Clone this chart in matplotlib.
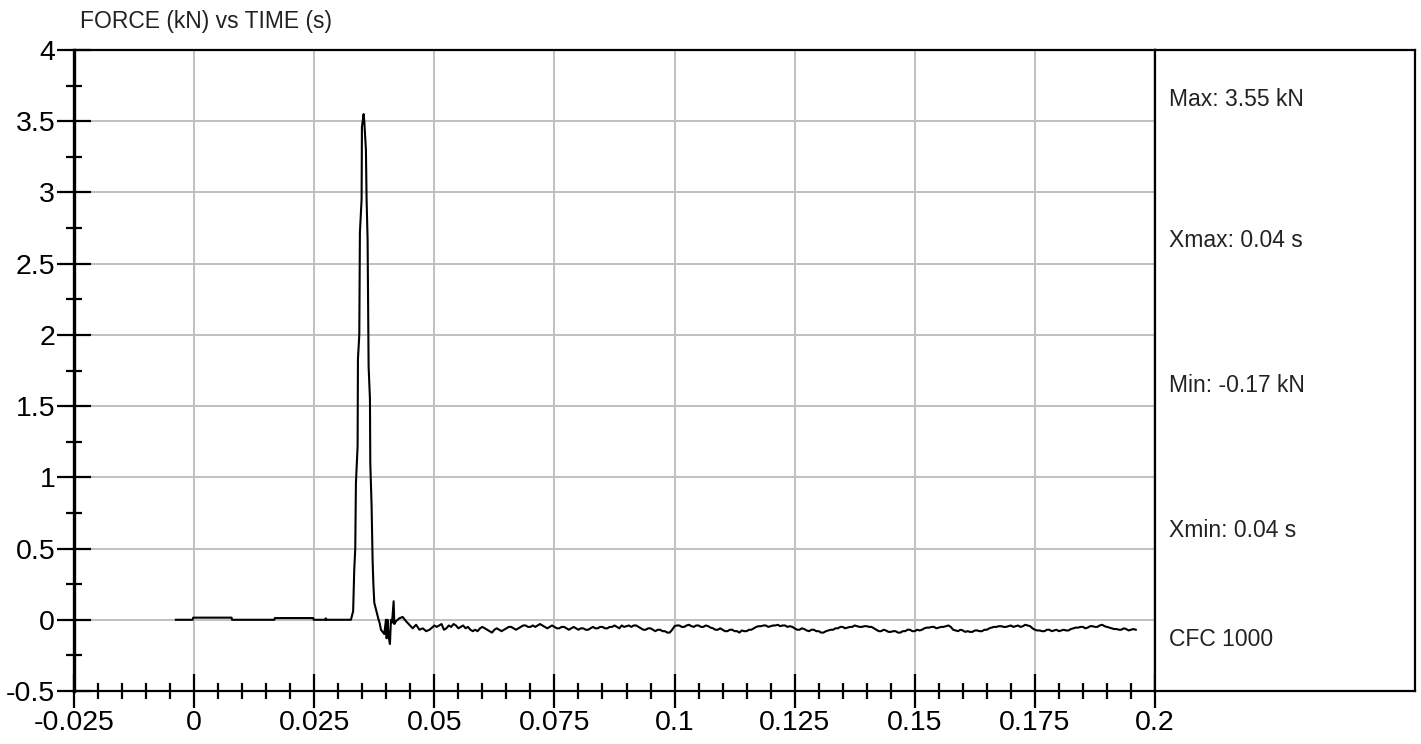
import numpy as np
import matplotlib
matplotlib.use("Agg")
import matplotlib.pyplot as plt
from matplotlib.ticker import MultipleLocator, FuncFormatter

plt.rcParams['axes.unicode_minus'] = False
plt.rcParams['font.family'] = ['Liberation Sans', 'DejaVu Sans']

# Data: pre-impact baseline (s, kN)
pre_t = [-0.0038, -0.0003, -0.0002, 0.0078, 0.0079, 0.0167, 0.0168, 0.0248, 0.0249,
         0.0273, 0.0274, 0.0275, 0.03264]
pre_f = [0.0, 0.0, 0.015, 0.015, 0.0, 0.0, 0.012, 0.012, 0.0,
         0.0, 0.01, 0.0, 0.0]

# impact pulse and ringing
pulse_t = [0.0331, 0.03333, 0.03354, 0.03368, 0.03403, 0.0341, 0.03438, 0.03451,
           0.03486, 0.03493, 0.03528, 0.03542, 0.03576, 0.0359, 0.03611, 0.03632,
           0.0366, 0.03667, 0.03694, 0.03715, 0.0373, 0.0375, 0.0384, 0.0386,
           0.03889, 0.03958, 0.03993, 0.04007, 0.04028, 0.04049, 0.04076, 0.04097,
           0.0412, 0.04153, 0.04167, 0.04201, 0.04271, 0.0434, 0.0441, 0.0448,
           0.0455, 0.0462, 0.0469, 0.0476, 0.0483, 0.0490, 0.0497]
pulse_f = [0.06, 0.35, 0.5, 0.96, 1.22, 1.83, 2.0, 2.72,
           2.95, 3.46, 3.55, 3.50, 3.3, 2.95, 2.67, 1.78,
           1.55, 1.1, 0.8, 0.42, 0.26, 0.12, 0.0, -0.02,
           -0.07, -0.1, 0.0, -0.13, 0.0, -0.12, -0.17, 0.0,
           -0.02, 0.13, -0.03, -0.01, 0.01, 0.02, -0.01, -0.035,
           -0.06, -0.035, -0.07, -0.06, -0.08, -0.07, -0.05]

# tail, sampled every 0.5 ms from 0.050 s
tail_t0 = 0.050
tail_dt = 0.0005
tail_f = [
    -0.04, -0.05, -0.04, -0.03, -0.07, -0.06, -0.04, -0.05, -0.03, -0.04,
    -0.06, -0.05, -0.04, -0.06, -0.05, -0.07, -0.08, -0.07, -0.08, -0.06,
    -0.05, -0.06, -0.07, -0.08, -0.09, -0.07, -0.06, -0.07, -0.08, -0.07,
    -0.06, -0.05, -0.05, -0.06, -0.07, -0.06, -0.05, -0.04, -0.04, -0.05,
    -0.05, -0.04, -0.05, -0.04, -0.03, -0.04, -0.05, -0.06, -0.05, -0.04,
    -0.05, -0.06, -0.06, -0.05, -0.05, -0.06, -0.07, -0.06, -0.05, -0.06,
    -0.07, -0.06, -0.06, -0.07, -0.07, -0.06, -0.05, -0.06, -0.06, -0.05,
    -0.05, -0.06, -0.06, -0.05, -0.05, -0.04, -0.05, -0.06, -0.04, -0.05,
    -0.045, -0.04, -0.05, -0.04, -0.04, -0.05, -0.06, -0.07, -0.07, -0.06,
    -0.06, -0.07, -0.08, -0.07, -0.07, -0.08, -0.08, -0.09, -0.09, -0.07,
    -0.045, -0.04, -0.04, -0.05, -0.05, -0.04, -0.035, -0.045, -0.05, -0.04,
    -0.04, -0.05, -0.05, -0.04, -0.045, -0.055, -0.06, -0.07, -0.07, -0.06,
    -0.07, -0.08, -0.08, -0.07, -0.07, -0.08, -0.08, -0.09, -0.075, -0.08,
    -0.08, -0.07, -0.07, -0.06, -0.05, -0.045, -0.045, -0.04, -0.04, -0.05,
    -0.045, -0.04, -0.04, -0.035, -0.045, -0.04, -0.04, -0.05, -0.045, -0.05,
    -0.06, -0.07, -0.07, -0.06, -0.065, -0.075, -0.08, -0.07, -0.07, -0.08,
    -0.08, -0.09, -0.09, -0.08, -0.075, -0.07, -0.07, -0.06, -0.06, -0.05,
    -0.05, -0.06, -0.055, -0.05, -0.05, -0.04, -0.045, -0.05, -0.05, -0.045,
    -0.045, -0.05, -0.05, -0.06, -0.07, -0.08, -0.08, -0.07, -0.075, -0.085,
    -0.085, -0.08, -0.08, -0.09, -0.09, -0.08, -0.08, -0.07, -0.07, -0.08,
    -0.08, -0.07, -0.075, -0.07, -0.06, -0.055, -0.055, -0.05, -0.05, -0.06,
    -0.055, -0.05, -0.05, -0.045, -0.04, -0.05, -0.07, -0.075, -0.08, -0.07,
    -0.075, -0.085, -0.08, -0.085, -0.085, -0.075, -0.075, -0.08, -0.08, -0.07,
    -0.07, -0.06, -0.055, -0.05, -0.05, -0.045, -0.045, -0.05, -0.05, -0.045,
    -0.04, -0.05, -0.045, -0.04, -0.05, -0.045, -0.035, -0.04, -0.045, -0.06,
    -0.07, -0.075, -0.075, -0.08, -0.08, -0.07, -0.07, -0.08, -0.075, -0.07,
    -0.08, -0.075, -0.07, -0.075, -0.075, -0.065, -0.06, -0.055, -0.055, -0.05,
    -0.05, -0.06, -0.055, -0.045, -0.045, -0.05, -0.05, -0.04, -0.035, -0.045,
    -0.05, -0.055, -0.06, -0.065, -0.065, -0.07, -0.07, -0.06, -0.065, -0.075,
    -0.07, -0.065, -0.07]

stats = ["Max: 3.55 kN", "Xmax: 0.04 s", "Min: -0.17 kN", "Xmin: 0.04 s", "CFC 1000"]
stats_y = [0.922, 0.703, 0.477, 0.251, 0.08]

tail_t = tail_t0 + tail_dt * np.arange(len(tail_f))
t = np.concatenate([pre_t, pulse_t, tail_t])
f = np.concatenate([pre_f, pulse_f, tail_f])

fig = plt.figure(figsize=(14.21, 7.44), dpi=100)
ax = fig.add_axes([74 / 1421, 1 - 691 / 744, (1155 - 74) / 1421, 641 / 744])
panel = fig.add_axes([1155 / 1421, 1 - 691 / 744, (1415 - 1155) / 1421, 641 / 744])

ax.plot(t, f, color='black', lw=1.5, zorder=3)

ax.set_xlim(-0.025, 0.2)
ax.set_ylim(-0.5, 4)
ax.xaxis.set_major_locator(MultipleLocator(0.025))
ax.xaxis.set_minor_locator(MultipleLocator(0.005))
ax.yaxis.set_major_locator(MultipleLocator(0.5))
ax.yaxis.set_minor_locator(MultipleLocator(0.25))
fmt = FuncFormatter(lambda v, p: "%g" % round(v, 4))
ax.xaxis.set_major_formatter(fmt)
ax.yaxis.set_major_formatter(fmt)
ax.tick_params(which='major', direction='inout', length=25, width=1.6,
               labelsize=20.5, pad=1)
ax.tick_params(which='minor', direction='inout', length=12, width=1.6)
ax.grid(True, which='major', color='#c0c0c0', lw=1.4)
ax.set_axisbelow(True)
for s in ['top', 'right', 'bottom']:
    ax.spines[s].set_linewidth(1.6)
ax.spines['left'].set_linewidth(2.4)

panel.set_xticks([])
panel.set_yticks([])
for s in panel.spines.values():
    s.set_linewidth(1.6)
for txt, yy in zip(stats, stats_y):
    panel.text(0.054, yy, txt, fontsize=16.5, color='#222222', va='center', ha='left')

fig.text(80 / 1421, 1 - 28 / 744, "FORCE (kN) vs TIME (s)",
         fontsize=16.5, color='#222222', va='baseline', ha='left')

fig.savefig("out.png", dpi=100)
